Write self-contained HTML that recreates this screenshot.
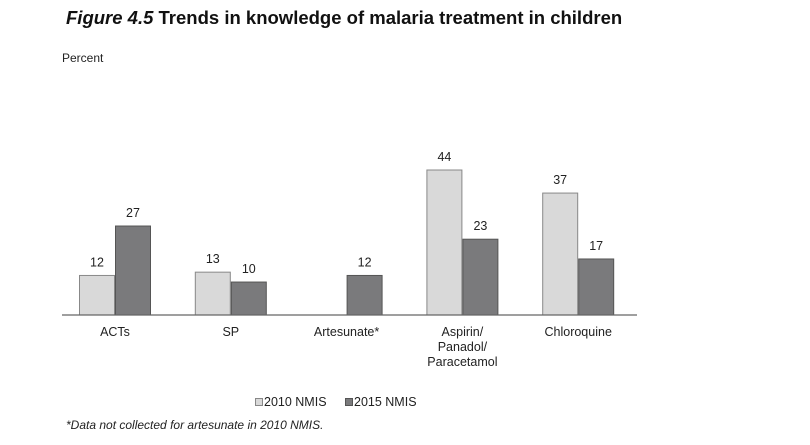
<!DOCTYPE html>
<html><head><meta charset="utf-8"><style>
body{margin:0;background:#fff;font-family:"Liberation Sans",Arial,sans-serif;}
</style></head><body>
<svg width="810" height="440" xmlns="http://www.w3.org/2000/svg" font-family="Liberation Sans, Arial, sans-serif">
<text x="66" y="24" font-size="18.5" font-weight="bold" fill="#111"><tspan font-style="italic">Figure 4.5</tspan>  Trends in knowledge of malaria treatment in children</text>
<text x="62" y="62" font-size="12" fill="#222">Percent</text>
<g id="bars"></g>
<line x1="62" y1="315" x2="637" y2="315" stroke="#666" stroke-width="1.3"/>
<g id="labels"></g>
<g>
<rect x="255.5" y="398.5" width="7" height="7" fill="#d9d9d9" stroke="#888"/>
<text x="264" y="406" font-size="12.5" fill="#222">2010 NMIS</text>
<rect x="345.5" y="398.5" width="7" height="7" fill="#7a7a7c" stroke="#555"/>
<text x="354" y="406" font-size="12.5" fill="#222">2015 NMIS</text>
</g>
<text x="66" y="429" font-size="12" font-style="italic" fill="#222">*Data not collected for artesunate in 2010 NMIS.</text>
</svg>
<script>
const categories=[["ACTs"],["SP"],["Artesunate*"],["Aspirin/","Panadol/","Paracetamol"],["Chloroquine"]];
const values2010=[12,13,null,44,37];
const values2015=[27,10,12,23,17];
const NS="http://www.w3.org/2000/svg";
const base=315, scale=145/44;
function y(v){return base-v*scale;}
function gx(i){return 115+i*115.8;}
const bars=document.getElementById('bars'), labels=document.getElementById('labels');
function mk(tag,attrs,parent){const e=document.createElementNS(NS,tag);for(const k in attrs)e.setAttribute(k,attrs[k]);parent.appendChild(e);return e;}
categories.forEach((c,i)=>{
  const cx=gx(i);
  [[values2010[i],cx-35.5,'#d9d9d9','#888','2010'],[values2015[i],cx+0.5,'#7a7a7c','#555','2015']].forEach(([v,x,f,s,yr])=>{
    if(v==null)return;
    const r=mk('rect',{x:x,y:y(v),width:35,height:v*scale,fill:f,stroke:s,'stroke-width':1},bars);
    
    
    const t=mk('text',{x:x+17.5,y:y(v)-9,'font-size':12.5,'text-anchor':'middle',fill:'#222'},labels);
    t.textContent=v;
    
    
  });
  c.forEach((line,j)=>{
    const t=mk('text',{x:cx,y:336+j*15,'font-size':12.5,'text-anchor':'middle',fill:'#222'},labels);
    t.textContent=line;
    
    
  });
});
</script>
</body></html>
